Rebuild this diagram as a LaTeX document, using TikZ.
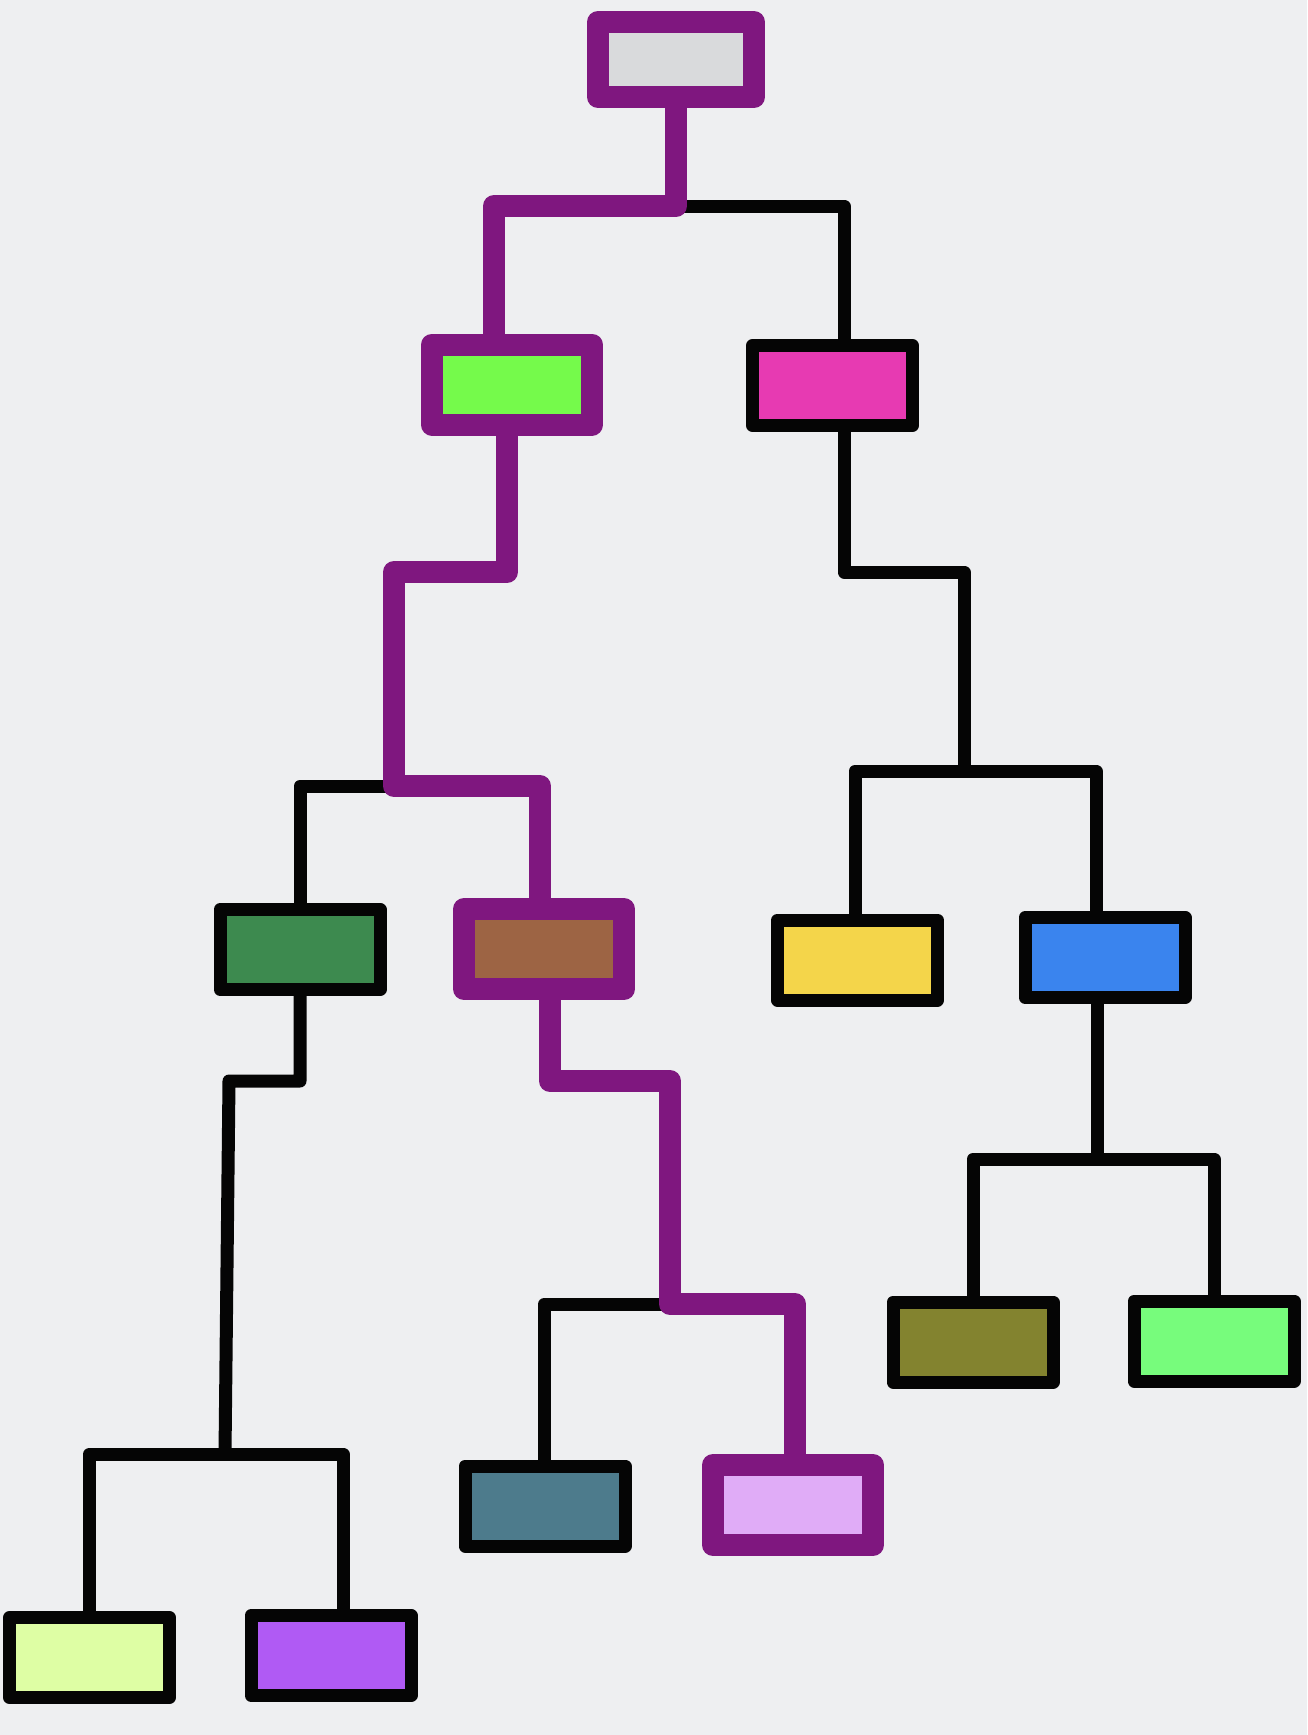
\documentclass[tikz,border=0pt]{standalone}
\usepackage{tikz}
\usetikzlibrary{positioning,calc}
\definecolor{backdrop}{HTML}{EEEFF1}
\definecolor{plum}{HTML}{7F177F}
\definecolor{ink}{HTML}{050505}
\definecolor{ash}{HTML}{D9DADC}
\definecolor{chartreuse}{HTML}{75FA4B}
\definecolor{rose}{HTML}{E73AB2}
\definecolor{fern}{HTML}{3D8A4F}
\definecolor{clay}{HTML}{9D6444}
\definecolor{sun}{HTML}{F4D54A}
\definecolor{azure}{HTML}{3A84EE}
\definecolor{moss}{HTML}{83832F}
\definecolor{mint}{HTML}{77FC7C}
\definecolor{slate}{HTML}{4D7B8C}
\definecolor{lilac}{HTML}{E0ACF7}
\definecolor{cream}{HTML}{DEFEA4}
\definecolor{amethyst}{HTML}{B05AF4}
\tikzset{
  nodebox/.style={draw=ink, line width=13pt, line join=round, inner sep=0pt,
    minimum width=160pt, minimum height=80pt},
  pathbox/.style={nodebox, draw=plum, line width=22pt},
  link/.style={draw=ink, line width=13pt, line cap=round, line join=round},
  pathlink/.style={link, draw=plum, line width=22pt}
}

\begin{document}
\begin{tikzpicture}[x=1pt, y=-1pt]
    \fill[backdrop] (0,0) rectangle (1307,1735);
    \useasboundingbox (0,0) rectangle (1307,1735);

    % boxes
    \node[pathbox, fill=ash, minimum width=156pt, minimum height=75pt] (root) at (676,59.5) {};
    \node[pathbox, fill=chartreuse] (chartreuse) at (512,384.5) {};
    \node[nodebox, fill=rose] (rose) at (832.5,385.5) {};
    \node[nodebox, fill=fern] (fern) at (300,949.5) {};
    \node[pathbox, fill=clay] (clay) at (544,949) {};
    \node[nodebox, fill=sun] (sun) at (857.5,960) {};
    \node[nodebox, fill=azure] (azure) at (1105,957.5) {};
    \node[nodebox, fill=moss] (moss) at (973,1342) {};
    \node[nodebox, fill=mint] (mint) at (1214,1341) {};
    \node[nodebox, fill=slate] (slate) at (545,1506) {};
    \node[pathbox, fill=lilac] (lilac) at (793,1505) {};
    \node[nodebox, fill=cream] (cream) at (89.5,1657.5) {};
    \node[nodebox, fill=amethyst] (amethyst) at (331,1655.5) {};

    % elbows
    \coordinate (splitA) at (676,206);
    \coordinate (aL) at (494,206);
    \coordinate (aR) at (844,206);
    \coordinate (bendB) at (507,572);
    \coordinate (bendB2) at (394,572);
    \coordinate (splitC) at (394,786);
    \coordinate (cL) at (300,786);
    \coordinate (cR) at (540,786);
    \coordinate (bendD) at (844,572);
    \coordinate (bendD2) at (964,572);
    \coordinate (splitE) at (964,771);
    \coordinate (eL) at (855,771);
    \coordinate (eR) at (1096,771);
    \coordinate (bendF) at (300,1081);
    \coordinate (bendF2) at (229,1081);
    \coordinate (splitG) at (225,1454);
    \coordinate (gL) at (89.6,1454);
    \coordinate (gR) at (343,1454);
    \coordinate (bendH) at (550,1081);
    \coordinate (bendH2) at (670,1081);
    \coordinate (splitK) at (670,1304);
    \coordinate (kL) at (544.5,1304);
    \coordinate (kR) at (795,1304);
    \coordinate (splitM) at (1097,1159);
    \coordinate (mL) at (973,1159);
    \coordinate (mR) at (1214,1159);

    % plain links
    \draw[link] (splitA) -- (aR) -- (aR |- rose.north);
    \draw[link] (aR |- rose.south) -- (bendD) -- (bendD2) -- (splitE);
    \draw[link] (eL |- sun.north) -- (eL) -- (eR) -- (eR |- azure.north);
    \draw[link] (splitM |- azure.south) -- (splitM);
    \draw[link] (mL |- moss.north) -- (mL) -- (mR) -- (mR |- mint.north);
    \draw[link] (splitC) -- (cL) -- (cL |- fern.north);
    \draw[link] (fern.south) -- (bendF) -- (bendF2) -- (splitG);
    \draw[link] (gL |- cream.north) -- (gL) -- (gR) -- (gR |- amethyst.north);
    \draw[link] (splitK) -- (kL) -- (kL |- slate.north);

    % highlighted path
    \draw[pathlink] (splitA |- root.south) -- (splitA) -- (aL) -- (aL |- chartreuse.north);
    \draw[pathlink] (bendB |- chartreuse.south) -- (bendB) -- (bendB2) -- (splitC) -- (cR) -- (cR |- clay.north);
    \draw[pathlink] (bendH |- clay.south) -- (bendH) -- (bendH2) -- (splitK) -- (kR) -- (kR |- lilac.north);
  \end{tikzpicture}
\end{document}
